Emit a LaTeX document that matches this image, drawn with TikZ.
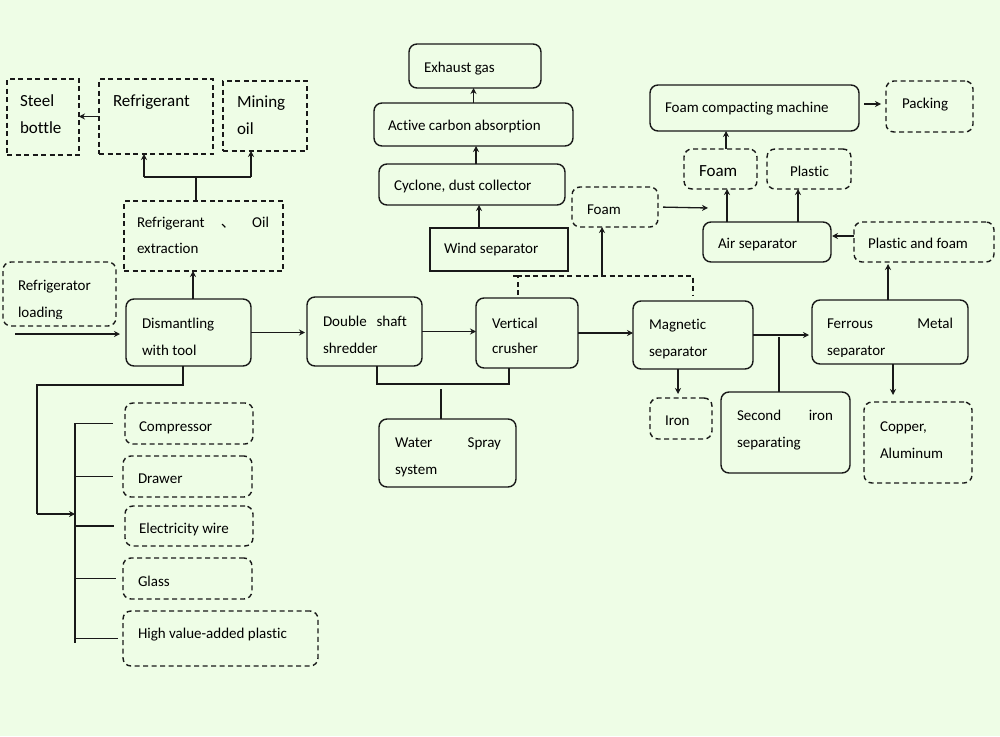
\documentclass[tikz,border=0pt]{standalone}
\usepackage{fontspec}
\setmainfont{Carlito}[Ligatures=NoCommon]
\newfontfamily\cjk{Noto Sans CJK SC}
\usetikzlibrary{arrows.meta}
\definecolor{bg}{RGB}{238,253,230}
\definecolor{lc}{RGB}{25,25,25}
\newcommand\mkbox[6]{\node[#2,minimum width={(#5-#3)*1pt},minimum height={(#6-#4)*1pt}] (#1) at ({(#3+#5)/2},{(#4+#6)/2}) {};}
\newcommand\mktx[5]{\node[txt,#4] (#1) at (#2,#3) {#5};}
\begin{document}
\begin{tikzpicture}[x=1pt,y=-1pt,
  basebox/.style={draw=lc,line width=1.4pt,inner sep=0pt,outer sep=0pt,rectangle},
  sbox/.style={basebox,rounded corners=8pt},
  sqbox/.style={basebox},
  dbox/.style={basebox,rounded corners=8pt,dash pattern=on 5pt off 3.5pt},
  dsq/.style={basebox,dash pattern=on 5pt off 3.5pt},
  txt/.style={anchor=base west,inner sep=0pt,outer sep=0pt,text=black,font=\fontsize{15}{18}\selectfont},
  big/.style={font=\fontsize{17}{20}\selectfont},
  ln/.style={draw=lc,line width=1.3pt},
  arr/.style={ln,-{Stealth[length=6pt,width=6pt]}},
  dln/.style={ln,dash pattern=on 5pt off 3.5pt}]
\fill[bg] (0,0) rectangle (1000,736);
\useasboundingbox (0,0) rectangle (1000,736);
% boxes
\mkbox{steel}{dsq}{7}{79}{79}{155}
\mkbox{refr}{dsq}{99}{79}{213}{154}
\mkbox{oil}{dsq}{223}{81}{307}{151}
\mkbox{extr}{dsq}{124}{201}{283}{271}
\mkbox{load}{dbox}{3}{262}{116}{326}
\mkbox{dis}{sbox}{126}{299}{251}{366}
\mkbox{dbl}{sbox}{307}{297}{422}{366}
\mkbox{vc}{sbox}{476}{298}{578}{368}
\mkbox{mag}{sbox}{633}{301}{753}{369}
\mkbox{fer}{sbox}{812}{300}{968}{364}
\mkbox{iron}{dbox}{650}{398}{712}{439}
\mkbox{sec}{sbox}{721}{392}{850}{473}
\mkbox{cu}{dbox}{864}{402}{972}{483}
\mkbox{water}{sbox}{379}{419}{516}{487}
\mkbox{exh}{sbox}{409}{44}{541}{88}
\mkbox{act}{sbox}{374}{103}{573}{146}
\mkbox{cyc}{sbox}{379}{164}{565}{205}
\mkbox{wind}{sqbox}{430}{228}{568}{271}
\mkbox{foamA}{dbox}{572}{187}{658}{227}
\mkbox{comp}{sbox}{650}{85}{859}{131}
\mkbox{pack}{dbox}{886}{81}{973}{132}
\mkbox{foamB}{dbox}{684}{149}{757}{189}
\mkbox{plas}{dbox}{767}{149}{851}{189}
\mkbox{air}{sbox}{703}{222}{831}{262}
\mkbox{pf}{dbox}{854}{222}{994}{262}
\mkbox{c1}{dbox}{125}{403}{253}{444}
\mkbox{c2}{dbox}{123}{456}{252}{497}
\mkbox{c3}{dbox}{125}{506}{253}{546}
\mkbox{c4}{dbox}{123}{558}{252}{599}
\mkbox{c5}{dbox}{123}{611}{318}{666}
% texts
\mktx{tsteelA}{20}{106}{big}{Steel}
\mktx{tsteelB}{20}{133}{big}{bottle}
\mktx{trefr}{113}{106}{big}{Refrigerant}
\mktx{toilA}{237}{107}{big}{Mining}
\mktx{toilB}{237}{134}{big}{oil}
\mktx{textrA}{137}{227}{}{\makebox[132pt][s]{Refrigerant {\cjk 、} Oil}}
\mktx{textrB}{137}{253}{}{extraction}
\begin{scope}
\clip (0,250) rectangle (130,318);
\mktx{tloadA}{18}{290}{}{Refrigerator}
\mktx{tloadB}{18}{317}{}{loading}
\end{scope}
\mktx{tdisA}{142}{328}{}{Dismantling}
\mktx{tdisB}{142}{355}{}{with tool}
\mktx{tdblA}{323}{326}{}{\makebox[84pt][s]{Double shaft}}
\mktx{tdblB}{323}{353}{}{shredder}
\mktx{tvcA}{492}{328}{}{Vertical}
\mktx{tvcB}{492}{353}{}{crusher}
\mktx{tmagA}{649}{329}{}{Magnetic}
\mktx{tmagB}{649}{356}{}{separator}
\mktx{tferA}{827}{328}{}{\makebox[126pt][s]{Ferrous Metal}}
\begin{scope}
\clip (800,335) rectangle (980,356.5);
\mktx{tferB}{827}{355}{}{separator}
\end{scope}
\mktx{tiron}{665}{425}{}{Iron}
\mktx{tsecA}{737}{420}{}{\makebox[96pt][s]{Second iron}}
\mktx{tsecB}{737}{447}{}{separating}
\mktx{tcuA}{880}{431}{}{Copper,}
\mktx{tcuB}{880}{458}{}{Aluminum}
\mktx{twaterA}{395}{447}{}{\makebox[106pt][s]{Water Spray}}
\mktx{twaterB}{395}{474}{}{system}
\mktx{texh}{424}{72}{}{Exhaust gas}
\mktx{tact}{388}{130}{}{Active carbon absorption}
\mktx{tcyc}{394}{190}{}{Cyclone, dust collector}
\mktx{twind}{444}{253}{}{Wind separator}
\mktx{tfoamA}{587}{214}{}{Foam}
\mktx{tcomp}{665}{112}{}{Foam compacting machine}
\mktx{tpack}{902}{108}{}{Packing}
\mktx{tfoamB}{699}{176}{big}{Foam}
\mktx{tplas}{790}{176}{}{Plastic}
\mktx{tair}{718}{248}{}{Air separator}
\mktx{tpf}{868}{248}{}{Plastic and foam}
\mktx{tc1}{139}{431}{}{Compressor}
\mktx{tc2}{138}{483}{}{Drawer}
\mktx{tc3}{139}{533}{}{Electricity wire}
\mktx{tc4}{138}{586}{}{Glass}
\mktx{tc5}{138}{638}{}{High value-added plastic}
% connectors top-left
\draw[arr] (refr.west) -- (refr.west -| steel.east);
\draw[arr] ([xshift=4.5pt]dis.north) -- ([xshift=4.5pt]dis.north |- extr.south);
\coordinate (ej) at (196,177);
\coordinate (ejl) at (144,177);
\coordinate (ejr) at (251,177);
\draw[ln] (ej |- extr.north) -- (ej);
\draw[ln] (ejl) -- (ejr);
\draw[arr] (ejl) -- (ejl |- refr.south);
\draw[arr] (ejr) -- (ejr |- oil.south);
\coordinate (in) at (15,334);
\draw[arr,shorten >=6pt] (in) -- (in -| dis.west);
% main row
\draw[arr,shorten >=2pt] (dis.east) -- (dis.east -| dbl.west);
\draw[arr] (dbl.east) -- (dbl.east -| vc.west);
\draw[arr] (vc.east) -- (vc.east -| mag.west);
\draw[arr,shorten >=3pt] (mag.east) -- (mag.east -| fer.west);
% water spray
\coordinate (wl) at (377,384);
\coordinate (wr) at (509,384);
\draw[ln] (wl |- dbl.south) -- (wl) -- (wr) -- (wr |- vc.south);
\coordinate (wm) at (441,389);
\draw[ln] (wm) -- (wm |- water.north);
% iron, second, copper
\draw[arr,shorten >=4pt] ([xshift=-15pt]mag.south) -- ([xshift=-15pt]mag.south |- iron.north);
\coordinate (sj) at (779,337);
\draw[ln] (sj) -- (sj |- sec.north);
\draw[arr,shorten >=7pt] ([xshift=3pt]fer.south) -- ([xshift=3pt]fer.south |- cu.north);
% right branch
\draw[arr,shorten >=2pt] ([xshift=-2pt]fer.north) -- ([xshift=-2pt]fer.north |- pf.south);
\draw[arr,shorten >=1pt] ([yshift=6pt]pf.west) -- ([yshift=6pt]pf.west -| air.east);
\draw[arr] ([xshift=-40pt]air.north) -- ([xshift=-40pt]air.north |- foamB.south);
\draw[arr] ([xshift=31pt]air.north) -- ([xshift=31pt]air.north |- plas.south);
\draw[arr] ([xshift=5.5pt]foamB.north) -- ([xshift=5.5pt]foamB.north |- comp.south);
\draw[arr,shorten <=5pt,shorten >=5pt] ([yshift=4pt]comp.east) -- ([yshift=4pt]comp.east -| pack.west);
\coordinate (fe) at (708,208);
\draw[arr,shorten <=5pt] (foamA.east) -- (fe);
% dashed take-off
\coordinate (dj1) at (518,276);
\coordinate (dj2) at (693,276);
\draw[dln,shorten <=3pt,shorten >=5pt] (dj1 |- vc.north) -- (dj1) -- (dj2) -- (dj2 |- mag.north);
\draw[ln] ([xshift=-5pt]dj1) -- ([xshift=4pt]dj1);
\coordinate (fj) at (602,276);
\draw[arr] (fj) -- (fj |- foamA.south);
% exhaust chain
\draw[arr] ([xshift=-20pt]wind.north) -- ([xshift=-20pt]wind.north |- cyc.south);
\draw[arr] ([xshift=4pt]cyc.north) -- ([xshift=4pt]cyc.north |- act.south);
\draw[arr] (act.north) -- (act.north |- exh.south);
% dismantled parts tree
\coordinate (t1) at (183,385);
\coordinate (t2) at (37,385);
\coordinate (t3) at (37,514);
\coordinate (t4) at (75,514);
\draw[ln] (t1 |- dis.south) -- (t1) -- (t2) -- (t3);
\draw[arr] (t3) -- (t4);
\coordinate (b1) at (75,423);
\coordinate (b2) at (75,643);
\draw[ln] (b1) -- (b2);
\draw[ln,shorten >=12pt] (c1.west -| b1) -- (c1.west);
\draw[ln,shorten >=10pt] (c2.west -| b1) -- (c2.west);
\draw[ln,shorten >=11pt] (c3.west -| b1) -- (c3.west);
\draw[ln,shorten >=7pt] (c4.west -| b1) -- (c4.west);
\draw[ln,shorten >=5pt] (c5.west -| b1) -- (c5.west);
\end{tikzpicture}
\end{document}
